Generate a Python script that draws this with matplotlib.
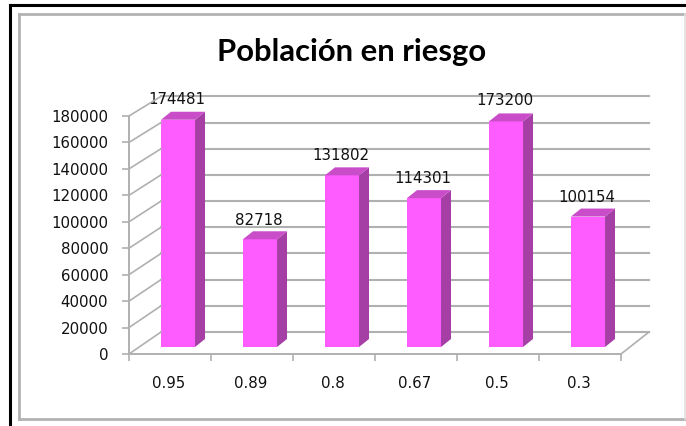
#!/usr/bin/env python3
import matplotlib
matplotlib.use('Agg')
import matplotlib.pyplot as plt
from matplotlib.lines import Line2D
from matplotlib.patches import Polygon
from matplotlib.transforms import ScaledTranslation

W, H = 686, 426
DPI = 100

categories = ['0.95', '0.89', '0.8', '0.67', '0.5', '0.3']
values = [174481, 82718, 131802, 114301, 173200, 100154]
y_ticks = list(range(0, 180001, 20000))

GRID = '#b0b0b0'
BAR_FRONT = '#ff5cff'
BAR_TOP = '#c94cc9'
BAR_SIDE = '#a53ea5'

# 3d look, all in pixels
WALL_DX, WALL_DY = 32, 22
WALL_SHRINK = 0.99   # back wall is a bit shorter than the front axis
WALL_END = 4         # back lines stop short of the full width
BAR_DX, BAR_DY = 8, 7
BAR_SHRINK = 0.985
DEPTH_DX, DEPTH_DY = 10, 8
BAR_WIDTH = 0.415


def px_x(x):
    return x / W


def px_y(y):
    return 1 - y / H


def shifted(ax, dx, dy):
    # data transform moved by some pixels
    return ax.transData + ScaledTranslation(dx / DPI, dy / DPI, ax.figure.dpi_scale_trans)


fig = plt.figure(figsize=(W / DPI, H / DPI), dpi=DPI, facecolor='white')

# the two frames round the chart
for x0, y0, x1, y1, col, lw in [
    (10, 5, 686, 5, 'black', 2.2), (10, 5, 10, 426, 'black', 2.2),
    (18.5, 14, 686, 14, '#b2b2b2', 2.0), (18.5, 14, 18.5, 419, '#b2b2b2', 2.0),
    (18.5, 419, 686, 419, '#b2b2b2', 2.0), (685, 14, 685, 419, '#dedede', 1.2),
]:
    fig.add_artist(Line2D([px_x(x0), px_x(x1)], [px_y(y0), px_y(y1)], color=col, lw=lw))

ax = fig.add_axes([px_x(129), px_y(354), px_x(621) - px_x(129), px_y(116) - px_y(354)])
ax.set_xlim(0, len(categories))
ax.set_ylim(0, 180000)
ax.patch.set_alpha(0)
for s in ['top', 'right']:
    ax.spines[s].set_visible(False)
for s in ['left', 'bottom']:
    ax.spines[s].set_color(GRID)
    ax.spines[s].set_linewidth(1.4)

ax.set_yticks(y_ticks)
ax.set_yticklabels([str(v) for v in y_ticks])
ax.set_xticks(range(len(categories) + 1))
ax.set_xticklabels([])
ax.tick_params(axis='both', color=GRID, width=1.2, length=5, labelsize=10.8, labelcolor='#111111')
ax.tick_params(axis='y', pad=10)

back = shifted(ax, WALL_DX, WALL_DY)
fx = ax.get_xlim()[1]
back_end = fx - WALL_END / 82

# back wall lines and the diagonals on the side wall
for v in y_ticks:
    ax.plot([0, back_end], [v * WALL_SHRINK, v * WALL_SHRINK], transform=back, color=GRID,
            lw=1.5, clip_on=False, zorder=1)
    x0, y0 = ax.transData.transform((0, v))
    _, y1 = back.transform((0, v * WALL_SHRINK))
    fig.add_artist(Line2D([x0, x0 + WALL_DX], [y0, y1], transform=None,
                          color=GRID, lw=1.2, zorder=1))

# floor edge on the right
x0, y0 = ax.transData.transform((fx, 0))
fig.add_artist(Line2D([x0, x0 + WALL_DX - WALL_END], [y0, y0 + WALL_DY], transform=None,
                      color=GRID, lw=1.2))

# bars
positions = [i + 0.5 + BAR_DX / 82 for i in range(len(values))]
front = shifted(ax, 0, BAR_DY)
for p, v in zip(positions, values):
    h = v * BAR_SHRINK
    ax.bar(p, h, BAR_WIDTH, color=BAR_FRONT, transform=front, zorder=4, clip_on=False)
    left, base = ax.transData.transform((p - BAR_WIDTH / 2, 0))
    right, top = ax.transData.transform((p + BAR_WIDTH / 2, h))
    base += BAR_DY
    top += BAR_DY
    fig.add_artist(Polygon([(right, base), (right + DEPTH_DX, base + DEPTH_DY),
                            (right + DEPTH_DX, top + DEPTH_DY), (right, top)],
                           transform=None, facecolor=BAR_SIDE, edgecolor='none', zorder=5))
    fig.add_artist(Polygon([(left, top), (left + DEPTH_DX, top + DEPTH_DY),
                            (right + DEPTH_DX, top + DEPTH_DY), (right, top)],
                           transform=None, facecolor=BAR_TOP, edgecolor='none', zorder=5))
    ax.annotate(str(v), (p, v), xytext=(-1, 24), textcoords='offset pixels', ha='center',
                va='center', fontsize=10.8, color='#111111', zorder=6, annotation_clip=False)

# category labels sit below the ticks
for i, cat in enumerate(categories):
    ax.annotate(cat, (i + 0.5, 0), xytext=(-1, -30), textcoords='offset pixels', ha='center',
                va='center', fontsize=10.8, color='#111111', annotation_clip=False)

fig.text(px_x(352), px_y(52), 'Población en riesgo', family='Lato', weight='bold',
         fontsize=22.3, ha='center', va='center', color='black')

fig.savefig('out.png', dpi=DPI)
